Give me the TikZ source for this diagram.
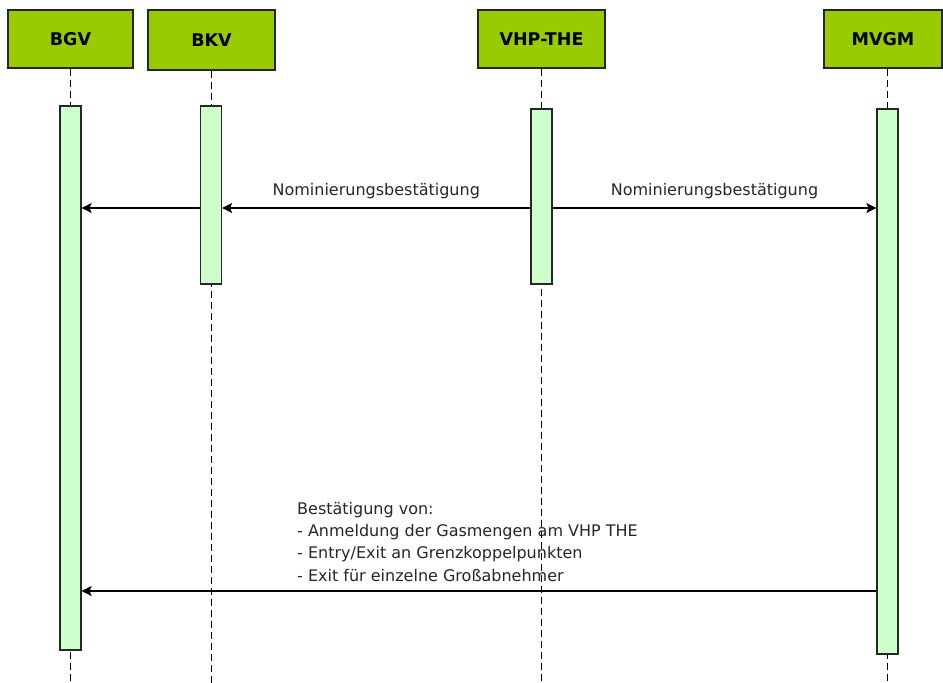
\documentclass[tikz,border=0pt]{standalone}
\usepackage{fontspec}
\setmainfont{DejaVu Sans}
\usetikzlibrary{arrows.meta}
\definecolor{headgreen}{HTML}{99CC00}
\definecolor{bargreen}{HTML}{CCFFCC}
\tikzset{
	head/.style={draw=black!85, line width=1.2pt, fill=headgreen, minimum width=125pt, minimum height=58pt, inner sep=0pt, font=\bfseries\fontsize{17.5}{20}\selectfont},
	bar/.style={draw=black!85, line width=1.2pt, fill=bargreen, minimum width=21pt, inner sep=0pt},
	life/.style={line width=1pt, dash pattern=on 7pt off 4pt},
	msg/.style={line width=1.3pt, -{Stealth[length=10pt,width=10pt,inset=2pt]}},
	lbl/.style={font=\fontsize{16}{22.3}\selectfont, text=black!85, inner sep=0pt}
}

\begin{document}
\begin{tikzpicture}[x=1pt, y=-1pt]
		%%%%% START %%%%%
		\useasboundingbox (0, 0) rectangle (943, 683);
		\coordinate (bottom) at (0, 683);
		\coordinate (m1) at (0, 208);
		\coordinate (m2) at (0, 591);
		
		\node[head] (bgv) at (70.5, 39) {BGV};
		\node[head, minimum width=127pt, minimum height=60pt] (bkv) at (211.5, 40) {BKV};
		\node[head, minimum width=127pt] (vhp) at (541.5, 39) {VHP-THE};
		\node[head, minimum width=118pt] (mvgm) at (883, 39) {MVGM};
		
		% lifelines
		\draw[life] (bgv.south) -- (bgv.south |- bottom);
		\draw[life] (bkv.south -| 211, 0) -- (211, 683);
		\draw[life] (vhp.south) -- (vhp.south |- bottom);
		\draw[life] (mvgm.south -| 887.5, 0) -- (887.5, 683);
		
		% activations
		\node[bar, minimum height=544pt] (bgvbar) at (70.5, 378) {};
		\node[bar, minimum height=178pt] (bkvbar) at (211, 195) {};
		\node[bar, minimum height=175pt] (vhpbar) at (541.5, 196.5) {};
		\node[bar, minimum height=545pt] (mvgmbar) at (887.5, 381.5) {};
		
		% messages
		\draw[msg] (vhpbar.west |- m1) -- (bkvbar.east |- m1) node[lbl, midway, anchor=base, yshift=13pt] {Nominierungsbestätigung};
		\draw[msg] (bkvbar.west |- m1) -- (bgvbar.east |- m1);
		\draw[msg] (vhpbar.east |- m1) -- (mvgmbar.west |- m1) node[lbl, midway, anchor=base, yshift=13pt] {Nominierungsbestätigung};
		
		\draw[msg] (mvgmbar.west |- m2) -- (bgvbar.east |- m2);
		\node[lbl, align=left, anchor=base west] (note) at (297, 581) {Bestätigung von:\\- Anmeldung der Gasmengen am VHP THE\\- Entry/Exit an Grenzkoppelpunkten\\- Exit für einzelne Großabnehmer};
		
		%%%%% END %%%%%
	\end{tikzpicture}
\end{document}
